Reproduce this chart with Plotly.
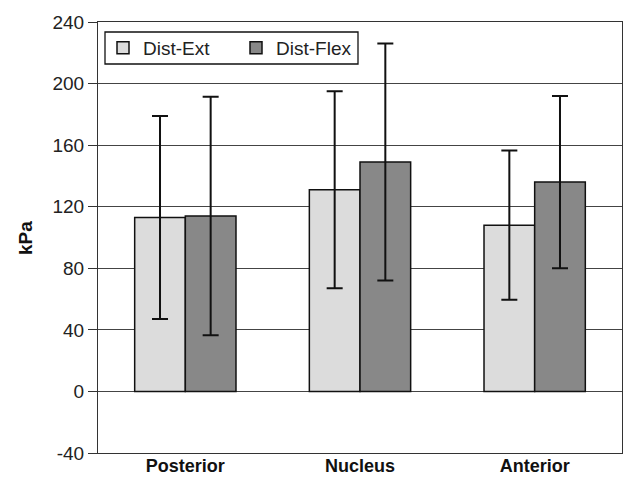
import plotly.graph_objects as go

categories = ["Posterior", "Nucleus", "Anterior"]
dist_ext = [113, 131, 108]
dist_ext_err = [66, 64, 48.5]
dist_flex = [114, 149, 136]
dist_flex_err = [77.5, 77, 56]
y_ticks = [-40, 0, 40, 80, 120, 160, 200, 240]

FONT = "Liberation Sans, Arial, sans-serif"
W, H = 623, 477
L, R, T, B = 98, 1, 22, 24
PW, PH = W - L - R, H - T - B

def px_x(px):
    return (px - L) / PW

def px_y(py):
    return (H - B - py) / PH

fig = go.Figure()
fig.add_trace(go.Bar(
    name="Dist-Ext", x=categories, y=dist_ext,
    marker=dict(color="#dcdcdc", line=dict(color="#111111", width=1.5)),
    error_y=dict(type="data", array=dist_ext_err, color="#111111", thickness=2, width=8),
))
fig.add_trace(go.Bar(
    name="Dist-Flex", x=categories, y=dist_flex,
    marker=dict(color="#888888", line=dict(color="#111111", width=1.5)),
    error_y=dict(type="data", array=dist_flex_err, color="#111111", thickness=2, width=8),
))

fig.update_layout(
    width=W, height=H,
    margin=dict(l=L, r=R, t=T, b=B, autoexpand=False),
    paper_bgcolor="white", plot_bgcolor="white",
    barmode="group", bargap=0.42, bargroupgap=0,
    font=dict(family=FONT, size=19, color="#222222"),
    showlegend=True,
    legend=dict(
        orientation="h", x=px_x(103), y=px_y(29), xanchor="left", yanchor="top",
        bgcolor="rgba(0,0,0,0)", borderwidth=0,
        font=dict(family=FONT, size=19, color="#222222"),
        entrywidth=88, entrywidthmode="pixels", traceorder="normal",
    ),
    shapes=[dict(
        type="rect", xref="paper", yref="paper",
        x0=px_x(105), x1=px_x(358), y0=px_y(64), y1=px_y(32),
        line=dict(color="#111111", width=1.3), fillcolor="white", layer="above",
    )],
    xaxis=dict(
        showline=True, linecolor="#333333", linewidth=1.2, mirror=True,
        ticks="", showgrid=False, ticklabelstandoff=-4,
        tickfont=dict(family=FONT, size=18, color="#111111", weight="bold"),
    ),
    yaxis=dict(
        range=[-40, 240], tickvals=y_ticks, ticktext=[str(v) for v in y_ticks],
        showline=True, linecolor="#333333", linewidth=1.2, mirror=True,
        ticks="outside", ticklen=9, tickcolor="#333333", tickwidth=1.2,
        showgrid=True, gridcolor="#444444", gridwidth=1.2,
        zeroline=True, zerolinecolor="#444444", zerolinewidth=1.2,
        tickfont=dict(family=FONT, size=19, color="#222222"),
    ),
    annotations=[dict(
        text="<b>kPa</b>", x=px_x(25), y=px_y(238), xref="paper", yref="paper",
        textangle=-90, showarrow=False, xanchor="center", yanchor="middle",
        font=dict(family=FONT, size=19, color="#111111"),
    )],
)

fig.write_html(
    "out.html",
    config={"displayModeBar": False},
    post_script="document.body.style.margin='0';document.body.style.padding='0';",
)
